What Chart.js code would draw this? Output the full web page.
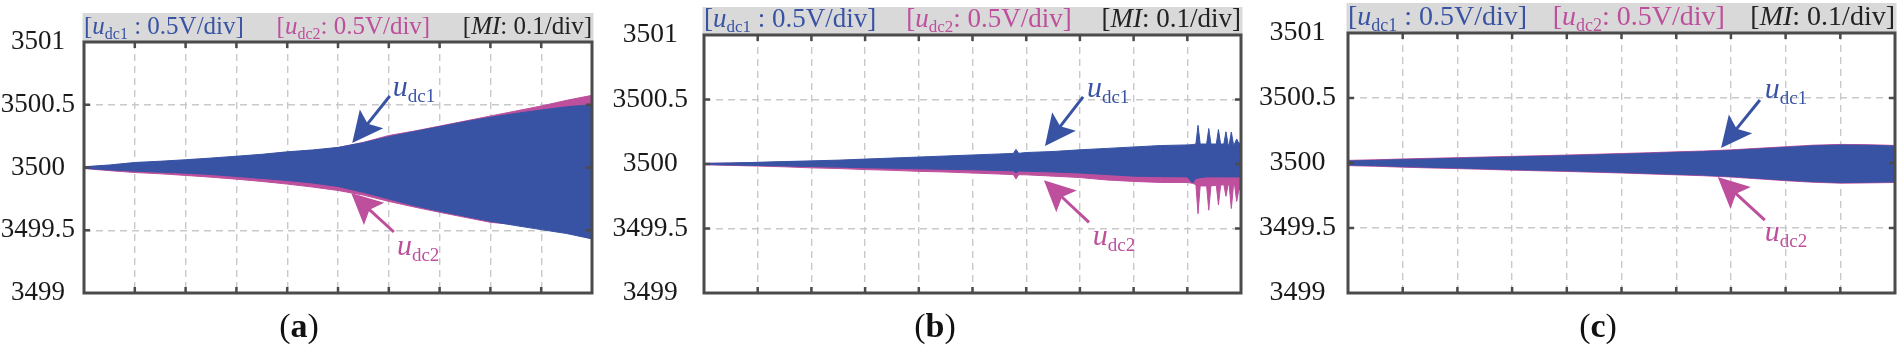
<!DOCTYPE html>
<html>
<head>
<meta charset="utf-8">
<script src="https://cdn.jsdelivr.net/npm/chart.js@4.4.1/dist/chart.umd.min.js"></script>
<style>
  html, body { margin:0; padding:0; background:#fff; }
  body { width:1902px; height:348px; position:relative; overflow:hidden; font-family:'Liberation Serif', serif; }
  canvas { position:absolute; top:0; }
</style>
</head>
<body>
<canvas id="pa" width="605" height="348" style="left:0px"></canvas>
<canvas id="pb" width="650" height="348" style="left:605px"></canvas>
<canvas id="pc" width="647" height="348" style="left:1255px"></canvas>
<script>
/* ── data: time in grid divisions, voltage envelopes in V ── */
const Y_TICKS  = [3499, 3499.5, 3500, 3500.5, 3501];
const Y_LABELS = ['3499', '3499.5', '3500', '3500.5', '3501'];

const X_DIV = [0,0.5,1,1.5,2,2.5,3,3.5,4,4.5,5,5.5,6,6.5,7,7.5,8,8.5,9,9.5,10];

// (a)
const A_UDC1_HI = [3500.006,3500.02,3500.04,3500.05,3500.062,3500.075,3500.09,3500.105,3500.125,3500.14,3500.16,3500.198,3500.246,3500.286,3500.325,3500.365,3500.4,3500.431,3500.458,3500.484,3500.5];
const A_UDC1_LO = [3499.994,3499.981,3499.971,3499.963,3499.955,3499.944,3499.929,3499.913,3499.897,3499.876,3499.849,3499.802,3499.749,3499.696,3499.651,3499.611,3499.571,3499.537,3499.505,3499.474,3499.431];
const A_UDC2_HI = [3500.004,3500.015,3500.035,3500.045,3500.057,3500.07,3500.085,3500.1,3500.12,3500.135,3500.158,3500.2,3500.255,3500.29,3500.33,3500.37,3500.41,3500.45,3500.49,3500.535,3500.575];
const A_UDC2_LO = [3499.992,3499.975,3499.96,3499.95,3499.937,3499.923,3499.907,3499.889,3499.868,3499.844,3499.817,3499.78,3499.73,3499.685,3499.643,3499.603,3499.563,3499.545,3499.532,3499.519,3499.505];

// (b) – extra samples around the spikes
const B_X = [0,0.5,1,1.5,2,2.5,3,3.5,4,4.5,5,5.5,5.76,5.81,5.86,6,6.5,7,7.5,8,8.5,9,9.1,9.16,9.2,9.24,9.36,9.4,9.44,9.54,9.58,9.62,9.68,9.72,9.76,9.78,9.82,9.86,9.88,9.92,9.96,10];
const B_UDC1_HI = [3500.005,3500.008,3500.013,3500.019,3500.024,3500.03,3500.038,3500.046,3500.054,3500.062,3500.07,3500.078,3500.082,3500.113,3500.083,3500.089,3500.097,3500.11,3500.121,3500.132,3500.143,3500.148,3500.15,3500.155,3500.3,3500.155,3500.155,3500.275,3500.155,3500.155,3500.267,3500.155,3500.155,3500.25,3500.15,3500.15,3500.248,3500.15,3500.155,3500.194,3500.16,3500.167];
const B_UDC1_LO = [3499.996,3499.993,3499.989,3499.985,3499.98,3499.976,3499.971,3499.967,3499.963,3499.959,3499.955,3499.95,3499.947,3499.93,3499.946,3499.944,3499.938,3499.93,3499.918,3499.906,3499.902,3499.9,3499.852,3499.89,3499.89,3499.895,3499.9,3499.9,3499.9,3499.9,3499.9,3499.9,3499.9,3499.9,3499.9,3499.9,3499.9,3499.9,3499.9,3499.9,3499.9,3499.9];
const B_UDC2_HI = [3500.004,3500.007,3500.011,3500.016,3500.021,3500.026,3500.033,3500.04,3500.047,3500.054,3500.061,3500.068,3500.072,3500.09,3500.073,3500.078,3500.086,3500.097,3500.108,3500.118,3500.13,3500.135,3500.152,3500.13,3500.14,3500.13,3500.13,3500.14,3500.13,3500.13,3500.14,3500.13,3500.13,3500.13,3500.13,3500.13,3500.13,3500.13,3500.13,3500.13,3500.13,3500.13];
const B_UDC2_LO = [3499.995,3499.989,3499.984,3499.978,3499.97,3499.965,3499.957,3499.951,3499.943,3499.938,3499.93,3499.922,3499.918,3499.884,3499.917,3499.916,3499.906,3499.895,3499.876,3499.865,3499.857,3499.857,3499.85,3499.84,3499.615,3499.83,3499.83,3499.642,3499.83,3499.835,3499.682,3499.835,3499.84,3499.75,3499.84,3499.835,3499.655,3499.835,3499.84,3499.71,3499.8,3499.8];

// (c)
const C_UDC1_HI = [3500.015,3500.02,3500.026,3500.031,3500.036,3500.041,3500.046,3500.051,3500.056,3500.062,3500.068,3500.074,3500.081,3500.087,3500.096,3500.108,3500.12,3500.132,3500.138,3500.136,3500.13];
const C_UDC1_LO = [3499.985,3499.98,3499.973,3499.967,3499.962,3499.956,3499.95,3499.945,3499.94,3499.934,3499.928,3499.921,3499.914,3499.907,3499.897,3499.883,3499.869,3499.857,3499.85,3499.852,3499.855];
const C_UDC2_HI = [3500.02,3500.025,3500.031,3500.036,3500.041,3500.046,3500.051,3500.056,3500.061,3500.067,3500.073,3500.079,3500.086,3500.092,3500.101,3500.113,3500.125,3500.137,3500.143,3500.141,3500.135];
const C_UDC2_LO = [3499.98,3499.975,3499.968,3499.962,3499.957,3499.951,3499.945,3499.94,3499.935,3499.929,3499.923,3499.916,3499.909,3499.902,3499.892,3499.878,3499.864,3499.852,3499.845,3499.847,3499.85];

/* ── styling ── */
const SERIF = "'Liberation Serif', 'Times New Roman', Times, serif";
const BLUE = '#3953a4', PINK = '#bd4f9d', DARK = '#222222';
const FRAME = '#4b4b4b', GRID = '#c9c9c9', BAND = '#d9d9d9';

const PANELS = [
  { id:'pa', left:0,    PL:84,   PR:592,  PT:42, PB:293, HT:13, hdr:25,   tick:27,   pad:9,    tag:'a', tagX:299,
    x:X_DIV, u1:[A_UDC1_HI, A_UDC1_LO], u2:[A_UDC2_HI, A_UDC2_LO],
    notes:[ {c:BLUE, sub:'dc1', tail:[6.02,3500.57], tip:[5.28,3500.195], lab:[6.08,3500.57]},
            {c:PINK, sub:'dc2', tail:[6.10,3499.486], tip:[5.26,3499.797], lab:[6.16,3499.30]} ] },
  { id:'pb', left:605,  PL:704,  PR:1241, PT:35, PB:293, HT:7,  hdr:27,   tick:27.5, pad:16,   tag:'b', tagX:935,
    x:B_X, u1:[B_UDC1_HI, B_UDC1_LO], u2:[B_UDC2_HI, B_UDC2_LO],
    notes:[ {c:BLUE, sub:'dc1', tail:[7.06,3500.52], tip:[6.35,3500.14], lab:[7.13,3500.52]},
            {c:PINK, sub:'dc2', tail:[7.17,3499.547], tip:[6.33,3499.875], lab:[7.24,3499.37]} ] },
  { id:'pc', left:1255, PL:1348, PR:1895, PT:33, PB:293, HT:3,  hdr:27.5, tick:28,   pad:12,   tag:'c', tagX:1598,
    x:X_DIV, u1:[C_UDC1_HI, C_UDC1_LO], u2:[C_UDC2_HI, C_UDC2_LO],
    notes:[ {c:BLUE, sub:'dc1', tail:[7.53,3500.485], tip:[6.82,3500.115], lab:[7.62,3500.5]},
            {c:PINK, sub:'dc2', tail:[7.62,3499.56], tip:[6.76,3499.892], lab:[7.62,3499.40]} ] },
];

/* ── small canvas helpers ── */
function rich(ctx, parts, x, y, size, align) {
  const fontOf = p => `${p.it ? 'italic' : 'normal'} ${p.b ? 'bold' : 'normal'} ${p.sub ? Math.round(size * 0.64) : Math.round(size)}px ${SERIF}`;
  const widths = parts.map(p => { ctx.font = fontOf(p); return ctx.measureText(p.t).width; });
  const w = widths.reduce((s, v) => s + v, 0);
  let cx = align === 'right' ? x - w : align === 'center' ? x - w / 2 : x;
  ctx.textAlign = 'left'; ctx.textBaseline = 'alphabetic';
  parts.forEach((p, i) => {
    ctx.font = fontOf(p); ctx.fillStyle = p.c;
    ctx.fillText(p.t, cx, y + (p.sub ? size * 0.2 : 0));
    cx += widths[i];
  });
  return w;
}

function arrow(ctx, x0, y0, x1, y1, color) {
  const dx = x1 - x0, dy = y1 - y0, L = Math.hypot(dx, dy);
  const ux = dx / L, uy = dy / L, nx = -uy, ny = ux;
  const head = 31, half = 15;
  const bx = x1 - ux * head, by = y1 - uy * head;
  ctx.strokeStyle = color; ctx.fillStyle = color; ctx.lineWidth = 3;
  ctx.beginPath(); ctx.moveTo(x0, y0); ctx.lineTo(x1 - ux * head * 0.7, y1 - uy * head * 0.7); ctx.stroke();
  ctx.beginPath();
  ctx.moveTo(x1, y1);
  ctx.lineTo(bx + nx * half, by + ny * half);
  ctx.lineTo(x1 - ux * head * 0.8, y1 - uy * head * 0.8);
  ctx.lineTo(bx - nx * half, by - ny * half);
  ctx.closePath(); ctx.fill();
}

/* ── frame, header strip, arrows and panel tag ── */
const panelDecor = {
  id: 'panelDecor',
  afterDraw(chart, args, o) {
    const ctx = chart.ctx, a = chart.chartArea, xs = chart.scales.x, ys = chart.scales.y;
    ctx.save();

    // header strip
    ctx.fillStyle = BAND;
    ctx.fillRect(a.left - 1.5, o.bandTop, a.right - a.left + 3, a.top - o.bandTop);
    const base = a.top - 8;
    const wL = rich(ctx, [{t:'[',c:BLUE},{t:'u',it:1,c:BLUE},{t:'dc1',sub:1,c:BLUE},{t:' : 0.5V/div]',c:BLUE}], a.left, base, o.hdr, 'left');
    const wR = rich(ctx, [{t:'[',c:DARK},{t:'MI',it:1,c:DARK},{t:': 0.1/div]',c:DARK}], a.right, base, o.hdr, 'right');
    const mid = (a.left + wL + a.right - wR) / 2;
    rich(ctx, [{t:'[',c:PINK},{t:'u',it:1,c:PINK},{t:'dc2',sub:1,c:PINK},{t:': 0.5V/div]',c:PINK}], mid, base, o.hdr, 'center');

    // inward tick marks + frame
    ctx.strokeStyle = FRAME; ctx.lineWidth = 2.5; ctx.setLineDash([]);
    ctx.beginPath();
    xs.ticks.forEach(t => {
      if (t.value <= xs.min || t.value >= xs.max) return;
      const px = xs.getPixelForValue(t.value);
      ctx.moveTo(px, a.bottom); ctx.lineTo(px, a.bottom - 6);
      ctx.moveTo(px, a.top);    ctx.lineTo(px, a.top + 6);
    });
    ys.ticks.forEach(t => {
      if (t.value <= ys.min || t.value >= ys.max) return;
      const py = ys.getPixelForValue(t.value);
      ctx.moveTo(a.left, py);  ctx.lineTo(a.left + 6, py);
      ctx.moveTo(a.right, py); ctx.lineTo(a.right - 6, py);
    });
    ctx.stroke();
    ctx.lineWidth = 3;
    ctx.strokeRect(a.left, a.top, a.right - a.left, a.bottom - a.top);

    // u_dc1 / u_dc2 callouts
    o.notes.forEach(n => {
      arrow(ctx, xs.getPixelForValue(n.tail[0]), ys.getPixelForValue(n.tail[1]),
                 xs.getPixelForValue(n.tip[0]),  ys.getPixelForValue(n.tip[1]), n.c);
      rich(ctx, [{t:'u',it:1,c:n.c},{t:n.sub,sub:1,c:n.c}],
           xs.getPixelForValue(n.lab[0]), ys.getPixelForValue(n.lab[1]), 30, 'left');
    });

    // (a) / (b) / (c)
    rich(ctx, [{t:'(',c:'#111'},{t:o.tag,b:1,c:'#111'},{t:')',c:'#111'}], o.tagX, 337, 34, 'center');
    ctx.restore();
  }
};

function buildPanel(p) {
  const cv = document.getElementById(p.id);
  const W = cv.width, H = cv.height;
  const pts = ys => p.x.map((x, i) => ({ x, y: ys[i] }));
  const band = (hi, lo, color, name) => [
    { label:name, data:pts(hi), borderColor:color, backgroundColor:color, borderWidth:1, fill:'+1', pointRadius:0, tension:0 },
    { label:name, data:pts(lo), borderColor:color, backgroundColor:color, borderWidth:1, fill:false, pointRadius:0, tension:0 },
  ];
  new Chart(cv, {
    type: 'line',
    data: { datasets: [...band(p.u1[0], p.u1[1], BLUE, 'udc1'), ...band(p.u2[0], p.u2[1], PINK, 'udc2')] },
    options: {
      responsive:false, animation:false, events:[],
      layout:{ padding:{ left:0, top:p.PT, right:W - (p.PR - p.left), bottom:H - p.PB } },
      plugins:{
        legend:{ display:false }, tooltip:{ enabled:false },
        panelDecor:{ bandTop:p.HT, hdr:p.hdr, tag:p.tag, tagX:p.tagX - p.left, notes:p.notes },
      },
      scales:{
        x:{ type:'linear', min:0, max:10,
            ticks:{ display:false, stepSize:1 },
            grid:{ color:GRID, lineWidth:1.4, drawTicks:false },
            border:{ display:false, dash:[7,5] },
            afterFit:s => { s.height = 0; s.paddingLeft = 0; s.paddingRight = 0; } },
        y:{ type:'linear', min:3499, max:3501,
            afterBuildTicks:s => { s.ticks = Y_TICKS.map(v => ({ value:v })); },
            ticks:{ callback:v => Y_LABELS[Y_TICKS.indexOf(v)], color:'#1a1a1a', font:{ family:SERIF, size:p.tick }, padding:p.pad, crossAlign:'center' },
            grid:{ color:GRID, lineWidth:1.4, drawTicks:false },
            border:{ display:false, dash:[7,5] },
            afterFit:s => { s.width = p.PL - p.left; s.paddingTop = 0; s.paddingBottom = 0; } },
      },
    },
    plugins:[panelDecor],
  });
}

PANELS.forEach(buildPanel);
</script>
</body>
</html>
